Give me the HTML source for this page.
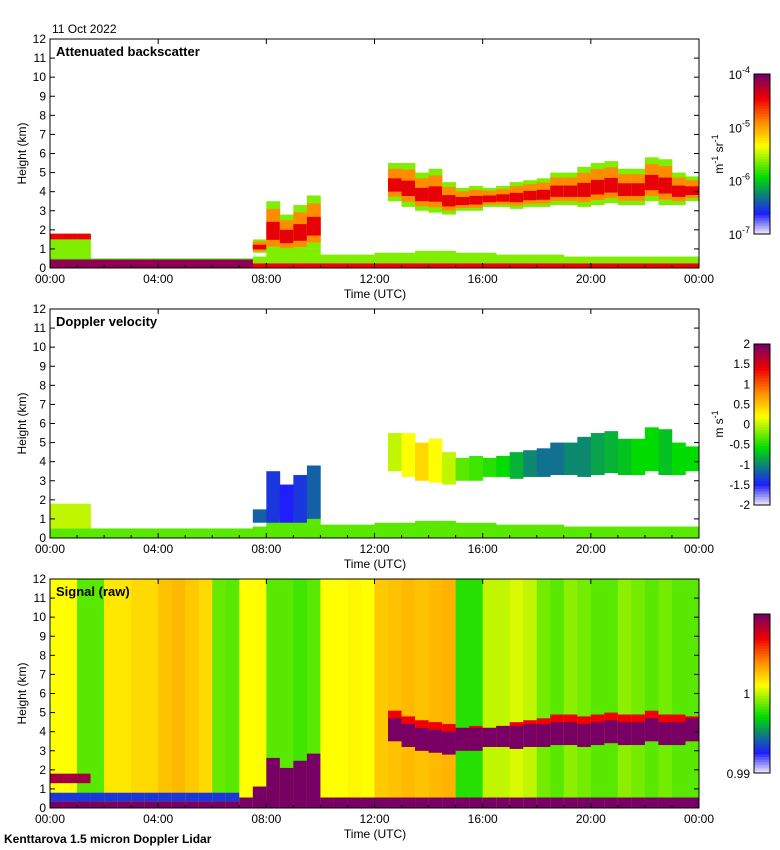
<!DOCTYPE html>
<html><head><meta charset="utf-8">
<style>
body{margin:0;background:#fff;}
svg{display:block;font-family:"Liberation Sans",sans-serif;}
</style></head>
<body>
<svg id="chart" width="780" height="850" viewBox="0 0 780 850"></svg>
<script>
// ---- data (half-hour bins, 48 bins over 24 h) ----
const binHours = 0.5;
const cloudBase = [0,0,0,0,0,0,0,0,0,0,0,0,0,0,0,0.8,0.8,0.8,0.8,1.0,0,0,0,0,0,3.5,3.2,3.0,2.9,2.8,3.0,3.0,3.2,3.2,3.1,3.2,3.2,3.3,3.3,3.2,3.3,3.4,3.3,3.3,3.5,3.3,3.3,3.5];
const cloudTop  = [0,0,0,0,0,0,0,0,0,0,0,0,0,0,0,1.5,3.5,2.8,3.3,3.8,0,0,0,0,0,5.5,5.5,5.0,5.2,4.5,4.2,4.3,4.2,4.3,4.5,4.6,4.7,5.0,5.0,5.3,5.5,5.6,5.2,5.2,5.8,5.7,5.0,4.8];
const aerosolTop = [1.8,1.8,1.8,0,0,0,0,0,0,0,0,0,0,0,0,0,0,0,0,0,0,0,0,0,0,0,0,0,0,0,0,0,0,0,0,0,0,0,0,0,0,0,0,0,0,0,0,0];
const blTop = [0.5,0.5,0.5,0.5,0.5,0.5,0.5,0.5,0.5,0.5,0.5,0.5,0.5,0.5,0.5,0.6,1.0,1.0,1.0,1.0,0.7,0.7,0.7,0.7,0.8,0.8,0.8,0.9,0.9,0.9,0.8,0.8,0.8,0.7,0.7,0.7,0.7,0.7,0.6,0.6,0.6,0.6,0.6,0.6,0.6,0.6,0.6,0.6];
const cloudVelocity = [0,0,0,0,0,0,0,0,0,0,0,0,0,0,0,0.2,0.15,0.12,0.15,0.2,0,0,0,0,0,0.5,0.55,0.6,0.55,0.5,0.42,0.4,0.38,0.35,0.3,0.25,0.22,0.22,0.25,0.25,0.28,0.3,0.32,0.35,0.35,0.32,0.35,0.35];
const signalBackground = [0.55,0.55,0.42,0.42,0.58,0.58,0.6,0.6,0.63,0.64,0.62,0.6,0.43,0.42,0.55,0.55,0.42,0.42,0.4,0.42,0.55,0.55,0.56,0.55,0.62,0.63,0.64,0.63,0.64,0.65,0.38,0.38,0.5,0.5,0.52,0.5,0.44,0.42,0.46,0.44,0.42,0.42,0.46,0.44,0.42,0.44,0.42,0.42];
const yTicks = [0,1,2,3,4,5,6,7,8,9,10,11,12];
const xTickLabels = ["00:00","04:00","08:00","12:00","16:00","20:00","00:00"];
const panelTitles = ["Attenuated backscatter","Doppler velocity","Signal (raw)"];
const cb1Labels = ["10","10","10","10"], cb1Exp = ["-4","-5","-6","-7"];
const cb2Labels = ["2","1.5","1","0.5","0","-0.5","-1","-1.5","-2"];

const NS="http://www.w3.org/2000/svg";
const svg=document.getElementById('chart');
function el(tag,attrs,parent){const e=document.createElementNS(NS,tag);for(const k in attrs)e.setAttribute(k,attrs[k]);(parent||svg).appendChild(e);return e;}
const stops=[[0,[225,222,245]],[0.12,[30,30,255]],[0.35,[0,220,0]],[0.55,[255,255,0]],[0.7,[255,140,0]],[0.85,[240,0,0]],[1,[120,0,100]]];
function cmap(v){v=Math.max(0,Math.min(1,v));for(let i=1;i<stops.length;i++){if(v<=stops[i][0]){const a=stops[i-1],b=stops[i];const f=(v-a[0])/(b[0]-a[0]);const c=a[1].map((x,j)=>Math.round(x+(b[1][j]-x)*f));return `rgb(${c})`;}}return 'rgb(120,0,100)';}
const X0=50,W=649,PH=229,tops=[39,309,579];
const xs=t=>X0+t/24*W;
const ys=(p,h)=>tops[p]+PH*(1-h/12);
function cell(p,i,h0,h1,v,g,name){if(h1<=h0)return;const r=el('rect',{x:xs(i*binHours),y:ys(p,h1),width:W/48+0.3,height:ys(p,h0)-ys(p,h1),fill:cmap(v)},g);

}

el('text',{x:52,y:33,'font-size':12},svg).textContent="11 Oct 2022";
for(let p=0;p<3;p++){
  const g=el('g',{},svg);
  
  
  for(let i=0;i<48;i++){
    if(p===2){ cell(p,i,0,12,signalBackground[i],g,'signal-column'); }
    if(p===0){
      if(i<15){cell(p,i,0,0.45,0.97,g,'bl-cell');cell(p,i,0.45,blTop[i],0.4,g,'bl-edge');}
      else{cell(p,i,0,0.25,0.85,g,'bl-cell');cell(p,i,0.25,blTop[i],0.45,g,'bl-edge');}
    } else if(p===1){
      cell(p,i,0,blTop[i],0.42,g,'bl-velocity');
    } else {
      cell(p,i,0,i<14?0.35:0.55,1,g,'bl-signal');
      if(i<14) cell(p,i,0.35,0.8,0.15,g,'bl-signal-edge');
    }
    if(aerosolTop[i]>0){
      if(p===0){cell(p,i,0.5,aerosolTop[i],0.45,g,'aerosol');cell(p,i,1.5,aerosolTop[i],0.85,g,'aerosol-top');}
      if(p===1)cell(p,i,0.5,aerosolTop[i],0.5,g,'aerosol-velocity');
      if(p===2){cell(p,i,1.3,aerosolTop[i],0.95,g,'aerosol-signal');}
    }
    const b=cloudBase[i],t=cloudTop[i];
    if(t>0){
      if(p===0){const d=t-b;cell(p,i,b,t,0.45,g,'cloud');cell(p,i,b+d*0.12,t-d*0.15,0.7,g,'cloud-mid');cell(p,i,b+d*0.25,t-d*0.4,0.86,g,'cloud-core');}
      else if(p===1){cell(p,i,b,t,cloudVelocity[i],g,'cloud-velocity');}
      else if(i<20){cell(p,i,0.3,t*0.75,1,g,'cloud-signal');}
      else {cell(p,i,b,Math.min(t,b+1.6),0.85,g,'cloud-signal-edge');cell(p,i,b,Math.min(t,b+1.2),1,g,'cloud-signal');}
    }
  }
  el('rect',{x:X0,y:tops[p],width:W,height:PH,fill:'none',stroke:'#000','stroke-width':1},g);
  yTicks.forEach(h=>{const y=ys(p,h);
    el('line',{x1:X0,x2:X0+5,y1:y,y2:y,stroke:'#000'},g);el('line',{x1:X0+W-5,x2:X0+W,y1:y,y2:y,stroke:'#000'},g);
    const tx=el('text',{x:X0-4,y:y+4,'font-size':12,'text-anchor':'end'},g);tx.textContent=h;});
  xTickLabels.forEach((lab,k)=>{const x=xs(k*4);
    el('line',{x1:x,x2:x,y1:tops[p]+PH,y2:tops[p]+PH-5,stroke:'#000'},g);el('line',{x1:x,x2:x,y1:tops[p],y2:tops[p]+5,stroke:'#000'},g);
    const tx=el('text',{x:x,y:tops[p]+PH+15,'font-size':12,'text-anchor':'middle'},g);tx.textContent=lab;});
  for(let h=1;h<24;h++){if(h%4){const x=xs(h);el('line',{x1:x,x2:x,y1:tops[p]+PH,y2:tops[p]+PH-3,stroke:'#000'},g);}}
  const tt=el('text',{x:56,y:tops[p]+17,'font-size':13,'font-weight':'bold'},g);tt.textContent=panelTitles[p];
  
  const yl=el('text',{transform:`translate(26,${tops[p]+PH/2}) rotate(-90)`,'font-size':12,'text-anchor':'middle'},g);yl.textContent="Height (km)";
  
  const xl=el('text',{x:375,y:tops[p]+PH+30,'font-size':12,'text-anchor':'middle'},g);xl.textContent="Time (UTC)";
  
}
function colorbar(y0,h,name){const g=el('g',{},svg);
  for(let k=0;k<60;k++){el('rect',{x:754,y:y0+h*k/60,width:16,height:h/60+0.5,fill:cmap(1-k/59)},g);}
  el('rect',{x:754,y:y0,width:16,height:h,fill:'none',stroke:'#000'},g);return g;}
const g1=colorbar(74,160,'backscatter-colorbar');
cb1Labels.forEach((l,k)=>{const t=el('text',{x:750,y:74+k*(160/3)+5,'font-size':12,'text-anchor':'end'},g1);t.textContent=l;const s=el('tspan',{'font-size':9,dy:-6},t);s.textContent=cb1Exp[k];});
const u1=el('text',{transform:'translate(723,154) rotate(-90)','font-size':12,'text-anchor':'middle'},g1);u1.innerHTML='m<tspan font-size="9" dy="-5">-1</tspan><tspan dy="5"> sr</tspan><tspan font-size="9" dy="-5">-1</tspan>';
const g2=colorbar(344,161,'velocity-colorbar');
cb2Labels.forEach((l,k)=>{const t=el('text',{x:750,y:344+k*(161/8)+4,'font-size':12,'text-anchor':'end'},g2);t.textContent=l;});
const u2=el('text',{transform:'translate(723,424) rotate(-90)','font-size':12,'text-anchor':'middle'},g2);u2.innerHTML='m s<tspan font-size="9" dy="-5">-1</tspan>';
const g3=colorbar(614,159,'signal-colorbar');
el('text',{x:750,y:698,'font-size':12,'text-anchor':'end'},g3).textContent="1";
el('text',{x:750,y:778,'font-size':12,'text-anchor':'end'},g3).textContent="0.99";
const ft=el('text',{x:4,y:843,'font-size':12,'font-weight':'bold'},svg);ft.textContent="Kenttarova 1.5 micron Doppler Lidar";

</script>
</body></html>
